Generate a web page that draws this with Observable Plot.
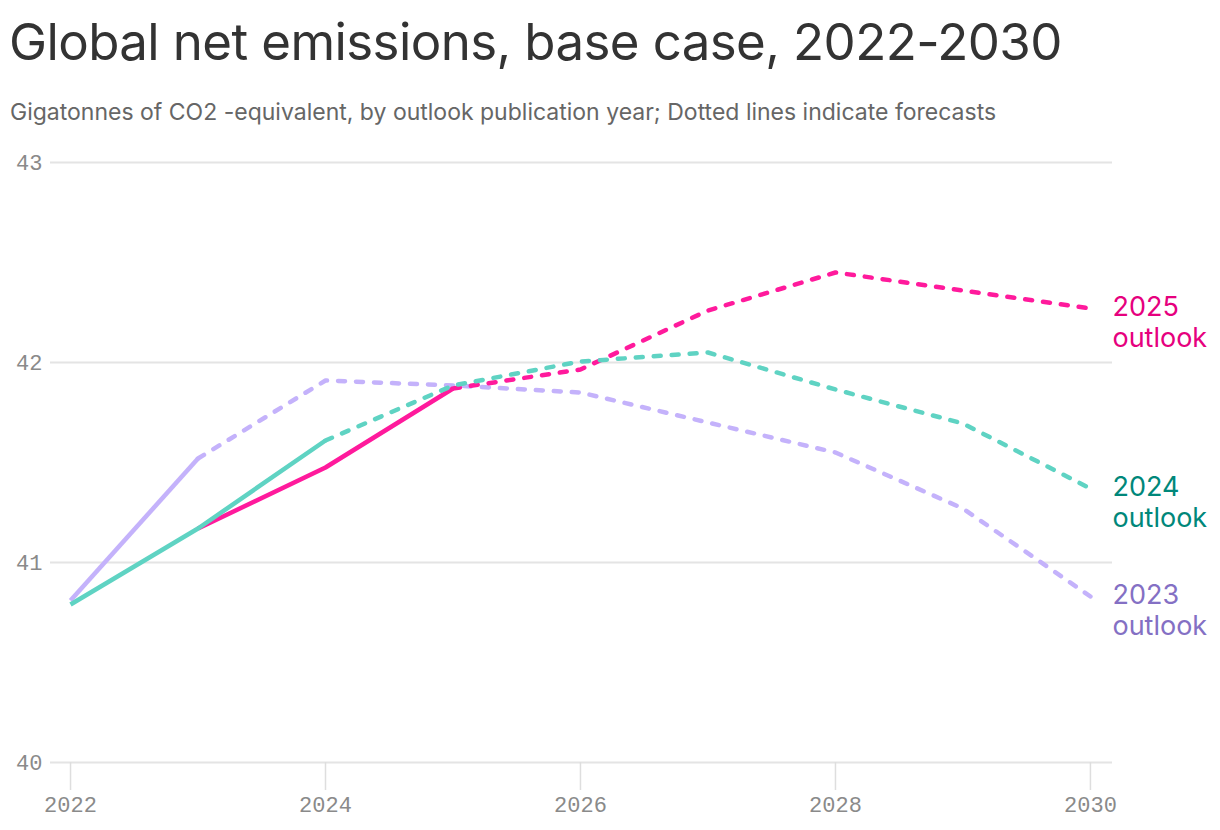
<!DOCTYPE html>
<html>
<head>
<meta charset="utf-8">
<script src="https://cdn.jsdelivr.net/npm/d3@7"></script>
<script src="https://cdn.jsdelivr.net/npm/@observablehq/plot@0.6"></script>
<style>
  html, body { margin: 0; padding: 0; background: #fff; }
  body { width: 1220px; height: 830px; position: relative; overflow: hidden; }
  #title { position: absolute; left: 9px; top: 10px; font-family: Inter, "Noto Sans", sans-serif; font-size: 51px; line-height: 64px; color: #333; letter-spacing: -0.6px; white-space: nowrap; }
  #subtitle { position: absolute; left: 10px; top: 97px; font-family: Inter, "Noto Sans", sans-serif; font-size: 23px; line-height: 30px; color: #666; white-space: nowrap; }
  #chart { position: absolute; left: 0; top: 140px; }
</style>
</head>
<body>
<div id="title">Global net emissions, base case, 2022-2030</div>
<div id="subtitle">Gigatonnes of CO2 -equivalent, by outlook publication year; Dotted lines indicate forecasts</div>
<div id="chart"></div>
<script>
// ---- data ----
const years = [2022, 2023, 2024, 2025, 2026, 2027, 2028, 2029, 2030];
const outlook2023 = [40.81, 41.52, 41.91, 41.885, 41.85, 41.70, 41.55, 41.27, 40.83];
const outlook2024 = [40.79, 41.17, 41.61, 41.885, 42.005, 42.05, 41.865, 41.695, 41.37];
const outlook2025 = [null, 41.17, 41.475, 41.87, 41.965, 42.26, 42.45, 42.36, 42.27];
const lastActualYear = {"2023": 2023, "2024": 2024, "2025": 2025};
const outlookNames = ["2023", "2025", "2024"]; // drawing order
const lineColors = {"2023": "#c4b2fb", "2024": "#5fd3c3", "2025": "#ff1a9c"};
const labelColors = {"2023": "#8470c4", "2024": "#00877a", "2025": "#e6007e"};
const yTicks = [40, 41, 42, 43];
const xTicks = [2022, 2024, 2026, 2028, 2030];

const seriesValues = {"2023": outlook2023, "2024": outlook2024, "2025": outlook2025};

const rows = [];
for (const name of outlookNames) {
  seriesValues[name].forEach((v, i) => {
    if (v != null) rows.push({outlook: name, year: years[i], value: v});
  });
}
const actual = rows.filter(d => d.year <= lastActualYear[d.outlook]);
const forecast = rows.filter(d => d.year >= lastActualYear[d.outlook]);
const lastPoints = outlookNames.map(n => rows.filter(d => d.outlook === n).slice(-1)[0]);

const monoFont = "'Liberation Mono', 'DejaVu Sans Mono', monospace";
const marks = [
  Plot.gridY(yTicks, {stroke: "#e4e4e4", strokeOpacity: 1, strokeWidth: 2}),
  Plot.axisY(yTicks, {tickSize: 0, tickPadding: 8, fill: "#8a8a8a", tickFormat: d => String(d),
    fontFamily: monoFont, fontSize: 22}),
  Plot.axisX(xTicks, {tickSize: 28, tickPadding: 6, stroke: "#dedede", strokeWidth: 1.5, fill: "#8a8a8a",
    tickFormat: d => String(d), fontFamily: monoFont, fontSize: 22})
];
for (const name of outlookNames) {
  marks.push(Plot.line(forecast.filter(d => d.outlook === name), {
    x: "year", y: "value", stroke: lineColors[name], strokeWidth: 4.5,
    strokeDasharray: "7,11", strokeLinecap: "round", strokeLinejoin: "round", curve: "linear"
  }));
  marks.push(Plot.line(actual.filter(d => d.outlook === name), {
    x: "year", y: "value", stroke: lineColors[name], strokeWidth: 4.5,
    strokeLinecap: "butt", strokeLinejoin: "round", curve: "linear"
  }));
}
marks.push(Plot.text(lastPoints, {
  x: "year", y: "value", text: d => d.outlook + "\noutlook",
  fill: d => labelColors[d.outlook], textAnchor: "start", lineAnchor: "top",
  dx: 22, dy: -14, lineHeight: 1.13,
  fontFamily: "Inter, 'Noto Sans', sans-serif", fontSize: 27
}));

const chart = Plot.plot({
  width: 1220,
  height: 690,
  marginLeft: 50,
  marginRight: 108,
  marginTop: 22,
  marginBottom: 68,
  style: {background: "#fff", overflow: "visible"},
  x: {domain: [2021.843, 2030.173], label: null, axis: null},
  y: {domain: [40, 43], label: null, axis: null},
  marks
});
document.getElementById("chart").appendChild(chart);
</script>
</body>
</html>
